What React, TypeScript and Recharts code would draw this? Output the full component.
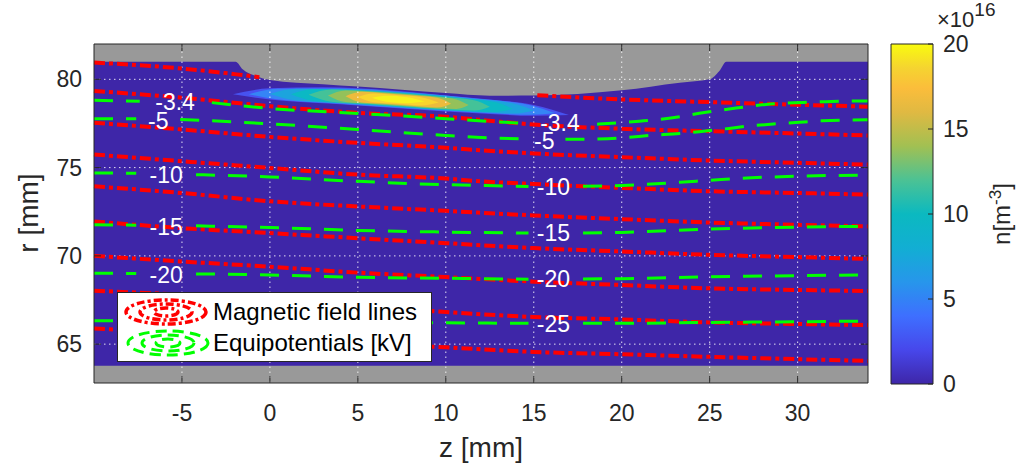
import React from "react";
import {
  ComposedChart,
  BarChart,
  Bar,
  Area,
  Line,
  Scatter,
  XAxis,
  YAxis,
  CartesianGrid,
  Legend,
  Label,
} from "recharts";

type Pair = [number, number | null];
type Band = [number, number, number];

const FONT = '"Liberation Sans", Arial, Helvetica, sans-serif';
const INK = "#262626";
const PLASMA = "#3E26A8";
const WALL = "#999999";

// axes (z and r in mm)
const zDomain = [-10, 34];
const rDomain = [62.8, 82];
const zTicks = [-5, 0, 5, 10, 15, 20, 25, 30];
const rTicks = [65, 70, 75, 80];
const cbTicks = [0, 5, 10, 15, 20];

// lower edge of the grey electrode (top of the plasma region), [z, r]
const electrodeEdge: Pair[] = [
  [-10, 81.0], [-1.95, 81.0], [-1.55, 80.57], [-0.8, 80.19], [0, 79.96], [3, 79.72],
  [5, 79.59], [10, 79.22], [12.5, 79.07], [15, 79.08], [20, 79.38], [23.3, 79.81],
  [25, 80.0], [25.55, 80.47], [25.95, 81.0], [34, 81.0],
];
const wallTop = 63.77;

// density contours, [z, r low, r high], outermost first
const density1: Band[] = [[-2.1, 79.15, 79.15], [0, 78.86, 79.49], [3, 78.64, 79.55], [5, 78.52, 79.49], [7.5, 78.35, 79.32], [10, 78.18, 79.09], [12.5, 78.04, 78.86], [15, 77.93, 78.55], [17, 77.98, 77.98]];
const density2: Band[] = [[-1.2, 79.16, 79.16], [0.5, 78.85, 79.47], [4, 78.62, 79.48], [8, 78.35, 79.25], [12, 78.1, 78.88], [14.8, 77.99, 78.53], [16.2, 78.09, 78.09]];
const density3: Band[] = [[0, 79.17, 79.17], [1.5, 78.8, 79.46], [4.5, 78.63, 79.43], [8, 78.38, 79.22], [11.5, 78.16, 78.9], [13.8, 78.06, 78.64], [15, 78.24, 78.24]];
const density4: Band[] = [[1.2, 79.15, 79.15], [2.5, 78.77, 79.45], [5, 78.62, 79.38], [8, 78.41, 79.19], [11, 78.21, 78.91], [12.8, 78.15, 78.71], [13.8, 78.33, 78.33]];
const density5: Band[] = [[2.2, 79.13, 79.13], [3.5, 78.73, 79.42], [5.5, 78.6, 79.34], [8, 78.43, 79.17], [10, 78.3, 78.98], [11.6, 78.23, 78.81], [12.5, 78.45, 78.45]];
const density6: Band[] = [[3.3, 79.09, 79.09], [4.3, 78.71, 79.37], [6, 78.6, 79.28], [8, 78.46, 79.14], [9.7, 78.34, 78.98], [10.6, 78.32, 78.86], [11.3, 78.54, 78.54]];
const density7: Band[] = [[4.3, 79.04, 79.04], [5.2, 78.69, 79.29], [6.5, 78.61, 79.21], [8, 78.5, 79.1], [9.5, 78.4, 78.96], [10.3, 78.62, 78.62]];
const density8: Band[] = [[5.0, 79.0, 79.0], [5.9, 78.7, 79.2], [7.2, 78.61, 79.11], [8.6, 78.51, 78.99], [9.6, 78.68, 78.68]];
const density9: Band[] = [[5.8, 78.95, 78.95], [6.6, 78.73, 79.07], [7.8, 78.65, 78.99], [8.8, 78.74, 78.74]];
const densityColors = ["#4752F0", "#3585F5", "#1CA4DD", "#0BB9C4", "#44C298", "#94C15A", "#EDBB3C", "#F9D42E", "#F6F21C"];

// magnetic field lines, [z, r] (null = hidden / gap)
const fieldLine1: Pair[] = [[-10, 80.95], [-5, 80.61], [-1.9, 80.28], [-0.6, 80.12], [7, null], [15.2, 79.1], [20, 78.86], [25, 78.71], [30, 78.56], [34, 78.45]];
const fieldLine2: Pair[] = [[-10, 79.34], [-5, 78.96], [0, 78.48], [5, 78.1], [10, 77.88], [12, 77.7], [15, 77.44], [20, 77.2], [25, 77.06], [30, 76.93], [34, 76.82]];
const fieldLine3: Pair[] = [[-10, 77.54], [-5, 77.16], [0, 76.74], [5, 76.4], [10, 76.12], [12, 75.98], [15, 75.8], [20, 75.59], [25, 75.4], [30, 75.27], [34, 75.17]];
const fieldLine4: Pair[] = [[-10, 75.74], [-5, 75.36], [0, 74.98], [5, 74.6], [10, 74.38], [12, 74.22], [15, 74.07], [20, 73.85], [25, 73.66], [30, 73.56], [34, 73.47]];
const fieldLine5: Pair[] = [[-10, 73.94], [-5, 73.56], [0, 73.09], [5, 72.8], [10, 72.55], [15, 72.29], [20, 72.08], [25, 71.89], [30, 71.76], [34, 71.67]];
const fieldLine6: Pair[] = [[-10, 71.95], [-5, 71.57], [0, 71.29], [5, 71.0], [10, 70.72], [15, 70.44], [20, 70.25], [25, 70.06], [30, 69.93], [34, 69.83]];
const fieldLine7: Pair[] = [[-10, 70.0], [-5, 69.68], [0, 69.39], [5, 69.05], [10, 68.8], [15, 68.54], [20, 68.35], [25, 68.16], [30, 68.07], [34, 68.01]];
const fieldLine8: Pair[] = [[-10, 68.03], [-5, 67.8], [0, 67.5], [5, 67.18], [10, 66.82], [15, 66.54], [20, 66.4], [25, 66.23], [30, 66.14], [34, 66.08]];
const fieldLine9: Pair[] = [[-10, 65.89], [-5, 65.6], [0, 65.3], [5, 65.05], [10, 64.82], [15, 64.56], [20, 64.43], [25, 64.28], [30, 64.15], [34, 64.05]];

// equipotentials [kV], [z, r] (null = gap for the contour label)
const equi3p4: Pair[] = [[-10, 78.81], [-7.4, 78.76], [-5.4, null], [-3.3, 78.68], [0, 78.35], [5, 78.07], [10, 77.77], [13, 77.58], [14.3, 77.52], [16.5, null], [18.6, 77.46], [21, 77.63], [22.9, 77.82], [24.7, 78.12], [26.5, 78.37], [28.2, 78.58], [30.3, 78.69], [31.9, 78.75], [34, 78.77]];
const equi5: Pair[] = [[-10, 77.77], [-7.6, 77.77], [-6.3, null], [-5.1, 77.73], [0, 77.48], [5, 77.16], [10, 76.82], [12, 76.71], [14.2, 76.63], [15.6, null], [16.8, 76.6], [19.2, 76.63], [20.4, 76.72], [21.6, 76.82], [23.3, 76.93], [24.4, 77.03], [26.1, 77.22], [27.2, 77.35], [28.8, 77.48], [30.1, 77.57], [31.4, 77.65], [32.5, 77.69], [34, 77.71]];
const equi10: Pair[] = [[-10, 74.7], [-7.6, 74.68], [-5.9, null], [-4.2, 74.6], [0, 74.47], [5, 74.22], [10, 74.03], [12.3, 73.98], [14.7, 73.93], [16.1, null], [17.8, 73.94], [20, 73.98], [23.3, 74.17], [25, 74.28], [27.1, 74.41], [30, 74.51], [34, 74.58]];
const equi15: Pair[] = [[-10, 71.76], [-7.6, 71.74], [-5.9, null], [-4.2, 71.7], [0, 71.61], [5, 71.44], [10, 71.35], [14.7, 71.29], [16.1, null], [17.8, 71.29], [20, 71.33], [25, 71.52], [30, 71.63], [34, 71.67]];
const equi20: Pair[] = [[-10, 69.02], [-7.6, 69.0], [-5.9, null], [-4.2, 68.98], [0, 68.92], [5, 68.79], [10, 68.73], [14.7, 68.68], [16.1, null], [17.8, 68.69], [20, 68.71], [25, 68.81], [30, 68.88], [34, 68.92]];
const equi25: Pair[] = [[-10, 66.33], [0, 66.26], [9.3, 66.21], [14.7, 66.18], [16.1, null], [17.8, 66.18], [20, 66.18], [25, 66.23], [30, 66.27], [34, 66.31]];

// contour labels
const labelText = ["-3.4", "-5", "-10", "-15", "-20", "-3.4", "-5", "-10", "-15", "-20", "-25"];
const labelZ = [-5.39, -6.35, -5.9, -5.9, -5.9, 16.49, 15.6, 16.12, 16.12, 16.12, 16.12];
const labelR = [78.74, 77.64, 74.6, 71.65, 68.92, 77.54, 76.52, 73.92, 71.31, 68.69, 66.14];

// parula colour bar
const parulaOffsets = [0, 0.1, 0.2, 0.3, 0.4, 0.5, 0.6, 0.7, 0.8, 0.87, 0.93, 1];
const parulaColors = ["#3E26A8", "#4747EB", "#3E6FFF", "#2796EB", "#12AED3", "#0BB9C0", "#4CC294", "#A2C052", "#E0B942", "#FBBD3B", "#F5D430", "#F9FB0E"];

const fieldLines = [fieldLine1, fieldLine2, fieldLine3, fieldLine4, fieldLine5, fieldLine6, fieldLine7, fieldLine8, fieldLine9];
const equipotentials = [equi3p4, equi5, equi10, equi15, equi20, equi25];
const densityLevels = [density1, density2, density3, density4, density5, density6, density7, density8, density9];

const toPts = (arr: Pair[]) => arr.map(([z, r]) => ({ z, r }));
const plasmaPts = electrodeEdge.map(([z, r]) => ({ z, v: [wallTop, r] }));
const bandPts = (arr: Band[]) => arr.map(([z, lo, hi]) => ({ z, v: [lo, hi] }));
const labelPts = labelText.map((t, i) => ({ z: labelZ[i], r: labelR[i], t }));

const vGrid = zTicks.flatMap((z) => [{ z, r: rDomain[0] }, { z, r: rDomain[1] }, { z, r: null }]);
const hGrid = rTicks.flatMap((r) => [{ z: zDomain[0], r }, { z: zDomain[1], r }, { z: zDomain[1], r: null }]);
const frame = [
  { z: zDomain[0], r: rDomain[0] },
  { z: zDomain[1], r: rDomain[0] },
  { z: zDomain[1], r: rDomain[1] },
  { z: zDomain[0], r: rDomain[1] },
  { z: zDomain[0], r: rDomain[0] },
];

// plot box in pixels
const PLOT = { left: 94, right: 868, top: 44, bottom: 383 };

const ZTick = (props: any) => {
  const { x, payload } = props;
  return (
    <g>
      <line x1={x} x2={x} y1={PLOT.bottom} y2={PLOT.bottom - 7} stroke={INK} />
      <line x1={x} x2={x} y1={PLOT.top} y2={PLOT.top + 7} stroke={INK} />
      <text x={x} y={413} textAnchor="middle" dominantBaseline="central" fontSize={23} fill={INK} fontFamily={FONT}>
        {payload.value}
      </text>
    </g>
  );
};

const RTick = (props: any) => {
  const { y, payload } = props;
  return (
    <g>
      <line x1={PLOT.left} x2={PLOT.left + 7} y1={y} y2={y} stroke={INK} />
      <line x1={PLOT.right} x2={PLOT.right - 7} y1={y} y2={y} stroke={INK} />
      <text x={82} y={y} textAnchor="end" dominantBaseline="central" fontSize={23} fill={INK} fontFamily={FONT}>
        {payload.value}
      </text>
    </g>
  );
};

const CbTick = (props: any) => {
  const { y, payload } = props;
  return (
    <g>
      <line x1={68} x2={73} y1={y} y2={y} stroke={INK} />
      <text x={83} y={y} textAnchor="start" dominantBaseline="central" fontSize={23} fill={INK} fontFamily={FONT}>
        {payload.value}
      </text>
    </g>
  );
};

const ContourLabel = (props: any) => {
  const { cx, cy, payload } = props;
  return (
    <text x={cx} y={cy} textAnchor="middle" dominantBaseline="central" fontSize={23} fill="#ffffff" fontFamily={FONT}>
      {payload.t}
    </text>
  );
};

const LegendIcon = ({ color, dash, width }: { color: string; dash: string; width: number }) => (
  <svg width={86} height={30} style={{ display: "block" }}>
    <ellipse cx={43} cy={15} rx={40} ry={12} fill="none" stroke={color} strokeWidth={width} strokeDasharray={dash} />
    <ellipse cx={43} cy={15} rx={26} ry={8} fill="none" stroke={color} strokeWidth={width} strokeDasharray={dash} />
    <ellipse cx={43} cy={15} rx={12} ry={4} fill="none" stroke={color} strokeWidth={width} strokeDasharray={dash} />
  </svg>
);

const FieldLegend = () => (
  <div
    style={{
      position: "relative",
      width: 313,
      height: 68,
      background: "#ffffff",
      border: `1px solid ${INK}`,
      fontFamily: FONT,
      fontSize: 24,
      color: "#000000",
    }}
  >
    <div style={{ position: "absolute", left: 5, top: 4 }}>
      <LegendIcon color="#ff0000" dash="8 3 3 3" width={3.5} />
    </div>
    <div style={{ position: "absolute", left: 95, top: 4, lineHeight: "30px", whiteSpace: "nowrap" }}>Magnetic field lines</div>
    <div style={{ position: "absolute", left: 7, top: 35 }}>
      <LegendIcon color="#00ff00" dash="11 6" width={3} />
    </div>
    <div style={{ position: "absolute", left: 95, top: 35, lineHeight: "30px", whiteSpace: "nowrap" }}>Equipotentials [kV]</div>
  </div>
);

export default function App() {
  return (
    <div style={{ position: "absolute", left: 0, top: 0, width: 1026, height: 469, background: "#ffffff", fontFamily: FONT }}>
      <div style={{ position: "absolute", left: 0, top: 0 }}>
        <ComposedChart width={880} height={469} margin={{ top: 44, right: 12, bottom: 0, left: 0 }}>
          <CartesianGrid horizontal={false} vertical={false} fill={WALL} stroke="none" />
          <Area data={plasmaPts} dataKey="v" type="monotone" fill={PLASMA} fillOpacity={1} stroke="none" isAnimationActive={false} />
          {densityLevels.map((lvl, i) => (
            <Area
              key={`d${i}`}
              data={bandPts(lvl)}
              dataKey="v"
              type="monotone"
              fill={densityColors[i]}
              fillOpacity={1}
              stroke="none"
              isAnimationActive={false}
            />
          ))}
          <Line data={vGrid} dataKey="r" type="linear" stroke="#ffffff" strokeOpacity={0.85} strokeWidth={1} strokeDasharray="1.5 3.5" dot={false} activeDot={false} isAnimationActive={false} />
          <Line data={hGrid} dataKey="r" type="linear" stroke="#ffffff" strokeOpacity={0.85} strokeWidth={1} strokeDasharray="1.5 3.5" dot={false} activeDot={false} isAnimationActive={false} />
          {fieldLines.map((l, i) => (
            <Line
              key={`f${i}`}
              data={toPts(l)}
              dataKey="r"
              type="monotone"
              stroke="#ff0000"
              strokeWidth={4}
              strokeDasharray="11 4 4 4"
              dot={false}
              activeDot={false}
              isAnimationActive={false}
            />
          ))}
          {equipotentials.map((l, i) => (
            <Line
              key={`e${i}`}
              data={toPts(l)}
              dataKey="r"
              type="monotone"
              stroke="#00ff00"
              strokeWidth={3}
              strokeDasharray="19 13"
              dot={false}
              activeDot={false}
              isAnimationActive={false}
            />
          ))}
          <Scatter data={labelPts} dataKey="r" shape={ContourLabel} isAnimationActive={false} />
          <Line data={frame} dataKey="r" type="linear" stroke={INK} strokeWidth={1} dot={false} activeDot={false} isAnimationActive={false} />
          <XAxis
            type="number"
            dataKey="z"
            domain={zDomain}
            ticks={zTicks}
            interval={0}
            height={86}
            axisLine={false}
            tickLine={false}
            tick={ZTick}
          >
            <Label
              content={() => (
                <text x={481} y={457} textAnchor="middle" fontSize={28} fill={INK} fontFamily={FONT}>
                  z [mm]
                </text>
              )}
            />
          </XAxis>
          <YAxis
            type="number"
            dataKey="r"
            domain={rDomain}
            ticks={rTicks}
            interval={0}
            width={94}
            axisLine={false}
            tickLine={false}
            tick={RTick}
          >
            <Label
              content={() => (
                <text x={38} y={213} transform="rotate(-90 38 213)" textAnchor="middle" fontSize={28} fill={INK} fontFamily={FONT}>
                  r [mm]
                </text>
              )}
            />
          </YAxis>
          <Legend
            layout="vertical"
            align="center"
            verticalAlign="middle"
            wrapperStyle={{ left: 117, top: 292, width: 315, height: 70 }}
            content={() => <FieldLegend />}
          />
        </ComposedChart>
      </div>
      <div style={{ position: "absolute", left: 860, top: 0 }}>
        <BarChart width={166} height={469} data={[{ k: "n", v: 20 }]} margin={{ top: 44, right: 33, bottom: 85, left: 31 }} barCategoryGap={0}>
          <defs>
            <linearGradient id="parula" x1="0" y1="1" x2="0" y2="0">
              {parulaOffsets.map((o, i) => (
                <stop key={o} offset={o} stopColor={parulaColors[i]} />
              ))}
            </linearGradient>
          </defs>
          <XAxis dataKey="k" hide />
          <Bar dataKey="v" fill="url(#parula)" stroke={INK} strokeWidth={1} isAnimationActive={false} />
          <YAxis
            orientation="right"
            type="number"
            domain={[0, 20]}
            ticks={cbTicks}
            interval={0}
            width={60}
            axisLine={false}
            tickLine={false}
            tick={CbTick}
          >
            <Label
              content={() => (
                <g fontFamily={FONT} fill={INK}>
                  <text x={77} y={27} fontSize={22}>
                    ×10
                    <tspan dy={-11} fontSize={19}>16</tspan>
                  </text>
                  <text x={150} y={214} transform="rotate(-90 150 214)" textAnchor="middle" fontSize={24}>
                    n[m
                    <tspan dy={-9} fontSize={17}>-3</tspan>
                    <tspan dy={9}>]</tspan>
                  </text>
                </g>
              )}
            />
          </YAxis>
        </BarChart>
      </div>
    </div>
  );
}
